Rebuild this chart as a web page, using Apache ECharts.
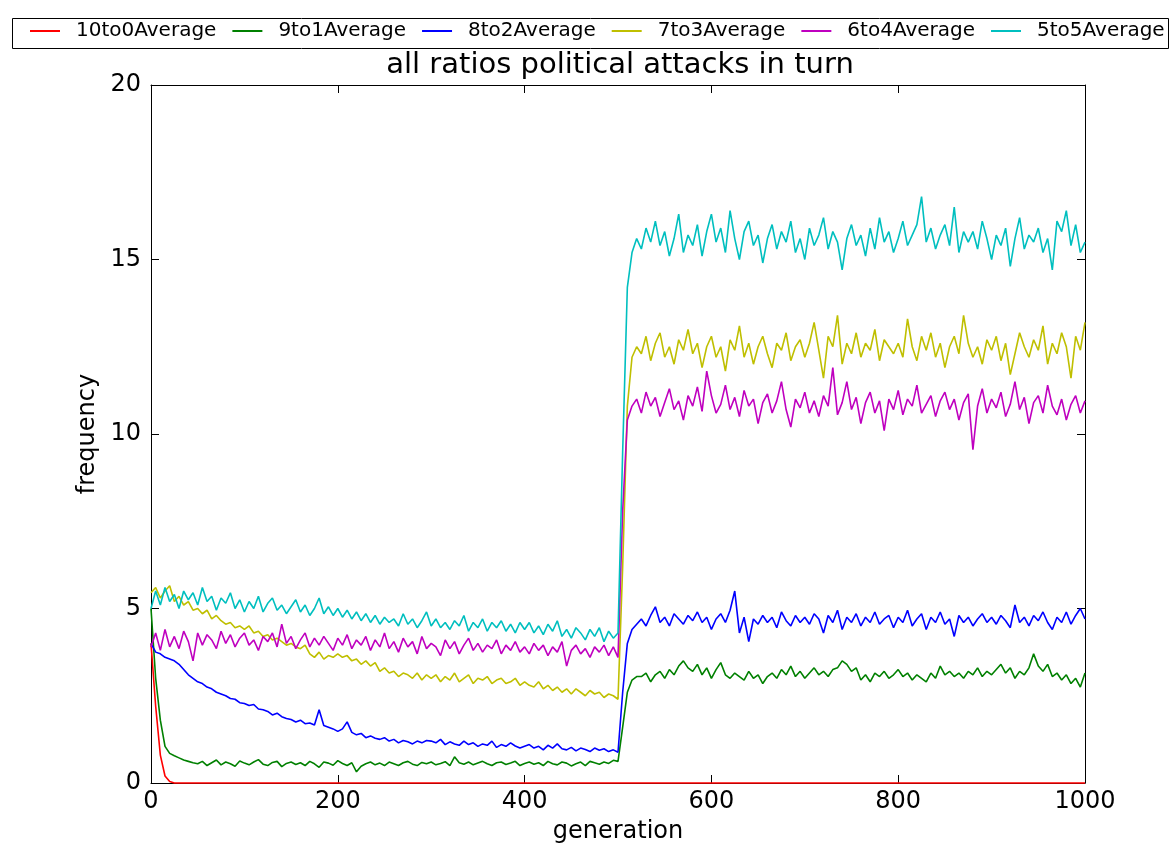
<!DOCTYPE html>
<html>
<head>
<meta charset="utf-8">
<script src="https://cdn.jsdelivr.net/npm/echarts@6/dist/echarts.min.js"></script>
<style>html,body{margin:0;padding:0;background:#fff}#c{width:1170px;height:849px}</style>
</head>
<body>
<div id="c"></div>
<script>
const generations = [
0,5,10,15,20,25,30,35,40,45,50,55,60,65,70,75,80,85,90,95,
100,105,110,115,120,125,130,135,140,145,150,155,160,165,170,175,180,185,190,195,
200,205,210,215,220,225,230,235,240,245,250,255,260,265,270,275,280,285,290,295,
300,305,310,315,320,325,330,335,340,345,350,355,360,365,370,375,380,385,390,395,
400,405,410,415,420,425,430,435,440,445,450,455,460,465,470,475,480,485,490,495,
500,505,510,515,520,525,530,535,540,545,550,555,560,565,570,575,580,585,590,595,
600,605,610,615,620,625,630,635,640,645,650,655,660,665,670,675,680,685,690,695,
700,705,710,715,720,725,730,735,740,745,750,755,760,765,770,775,780,785,790,795,
800,805,810,815,820,825,830,835,840,845,850,855,860,865,870,875,880,885,890,895,
900,905,910,915,920,925,930,935,940,945,950,955,960,965,970,975,980,985,990,995,
1000];

const r10to0 = [
4.0,2.2,0.8,0.2,0.04,0,0,0,0,0,0,0,0,0,0,0,0,0,0,0,
0,0,0,0,0,0,0,0,0,0,0,0,0,0,0,0,0,0,0,0,
0,0,0,0,0,0,0,0,0,0,0,0,0,0,0,0,0,0,0,0,
0,0,0,0,0,0,0,0,0,0,0,0,0,0,0,0,0,0,0,0,
0,0,0,0,0,0,0,0,0,0,0,0,0,0,0,0,0,0,0,0,
0,0,0,0,0,0,0,0,0,0,0,0,0,0,0,0,0,0,0,0,
0,0,0,0,0,0,0,0,0,0,0,0,0,0,0,0,0,0,0,0,
0,0,0,0,0,0,0,0,0,0,0,0,0,0,0,0,0,0,0,0,
0,0,0,0,0,0,0,0,0,0,0,0,0,0,0,0,0,0,0,0,
0,0,0,0,0,0,0,0,0,0,0,0,0,0,0,0,0,0,0,0,
0];

const r9to1 = [
5.0,3.0,1.8,1.05,0.85,0.78,0.72,0.66,0.62,0.58,0.55,0.62,0.5,0.58,0.66,0.52,0.6,0.55,0.48,0.63,
0.57,0.52,0.6,0.67,0.54,0.5,0.59,0.62,0.47,0.56,0.6,0.53,0.58,0.5,0.62,0.55,0.45,0.6,0.57,0.51,
0.64,0.56,0.5,0.58,0.32,0.48,0.55,0.6,0.52,0.57,0.5,0.6,0.55,0.5,0.58,0.62,0.54,0.5,0.59,0.55,
0.6,0.52,0.56,0.61,0.5,0.75,0.58,0.54,0.6,0.52,0.57,0.62,0.55,0.5,0.58,0.6,0.53,0.57,0.62,0.5,
0.56,0.6,0.54,0.58,0.5,0.62,0.55,0.52,0.6,0.57,0.49,0.55,0.6,0.5,0.62,0.58,0.54,0.6,0.56,0.65,
0.62,1.6,2.6,2.95,3.05,3.05,3.15,2.9,3.1,3.2,3.0,3.25,3.1,3.35,3.5,3.3,3.2,3.4,3.1,3.3,
3.0,3.25,3.45,3.1,3.0,3.15,3.05,2.95,3.2,3.0,3.1,2.85,3.05,3.15,3.0,3.25,3.1,3.35,3.05,3.2,
3.0,3.15,3.3,3.1,3.2,3.05,3.25,3.3,3.5,3.4,3.2,3.3,2.95,3.1,2.9,3.15,3.05,3.2,3.0,3.1,
3.25,3.05,3.15,2.95,3.1,3.0,2.9,3.15,3.0,3.35,3.1,3.2,3.05,3.15,3.0,3.2,3.1,3.3,3.05,3.2,
3.1,3.25,3.4,3.15,3.3,3.0,3.2,3.1,3.3,3.7,3.35,3.2,3.4,3.05,3.15,2.95,3.1,2.85,3.0,2.75,
3.15];

const r8to2 = [
4.0,3.75,3.7,3.6,3.55,3.5,3.4,3.25,3.1,3.0,2.9,2.85,2.75,2.7,2.6,2.55,2.5,2.42,2.4,2.3,
2.28,2.22,2.25,2.12,2.1,2.05,1.95,2.0,1.9,1.85,1.82,1.75,1.8,1.7,1.72,1.66,2.1,1.65,1.6,1.55,
1.48,1.55,1.75,1.45,1.38,1.42,1.3,1.35,1.28,1.25,1.3,1.2,1.25,1.15,1.22,1.18,1.12,1.2,1.15,1.22,
1.2,1.15,1.25,1.1,1.18,1.12,1.08,1.2,1.1,1.15,1.05,1.12,1.08,1.2,1.02,1.1,1.05,1.15,1.06,1.0,
1.05,1.1,1.0,1.05,0.95,1.08,1.0,1.12,0.98,0.95,1.02,0.92,1.0,0.96,0.9,1.0,0.94,0.98,0.9,0.95,
0.88,2.6,4.0,4.4,4.55,4.7,4.5,4.8,5.05,4.6,4.75,4.5,4.85,4.7,4.55,4.8,4.65,4.9,4.6,4.75,
4.4,4.7,4.85,4.6,4.95,5.5,4.3,4.75,4.05,4.7,4.55,4.8,4.6,4.75,4.45,4.9,4.65,4.5,4.8,4.6,
4.75,4.55,4.85,4.7,4.3,4.8,4.6,4.95,4.4,4.75,4.6,4.85,4.5,4.75,4.6,4.9,4.55,4.7,4.8,4.45,
4.75,4.6,4.95,4.5,4.7,4.85,4.4,4.75,4.6,4.9,4.55,4.7,4.2,4.8,4.6,4.75,4.5,4.7,4.85,4.6,
4.75,4.55,4.8,4.65,4.45,5.1,4.6,4.75,4.5,4.8,4.65,4.9,4.6,4.4,4.75,4.6,4.9,4.55,4.8,5.0,
4.7];

const r7to3 = [
5.45,5.6,5.3,5.5,5.65,5.2,5.35,5.1,5.2,4.95,5.0,4.85,4.95,4.7,4.8,4.65,4.55,4.6,4.45,4.5,
4.4,4.5,4.3,4.35,4.2,4.25,4.1,4.15,4.05,3.95,4.0,3.9,3.85,3.95,3.7,3.6,3.75,3.55,3.65,3.6,
3.7,3.6,3.65,3.5,3.55,3.4,3.5,3.35,3.45,3.2,3.3,3.15,3.2,3.05,3.15,3.1,3.0,3.15,2.95,3.1,
3.0,3.1,2.9,3.05,2.95,3.15,2.9,3.0,3.1,2.85,3.0,2.95,3.05,2.85,2.95,3.0,2.85,2.9,3.0,2.8,
2.9,2.8,2.75,2.9,2.7,2.8,2.65,2.75,2.6,2.7,2.55,2.7,2.6,2.5,2.65,2.55,2.6,2.45,2.55,2.5,
2.4,6.2,10.8,12.2,12.5,12.3,12.8,12.1,12.6,12.9,12.2,12.5,12.0,12.7,12.4,13.0,12.3,12.6,11.9,12.5,
12.8,12.2,12.5,11.8,12.7,12.4,13.1,12.2,12.6,12.0,12.5,12.8,12.3,11.9,12.6,12.4,12.9,12.1,12.5,12.7,
12.2,12.6,13.2,12.4,11.6,12.8,12.5,13.4,12.0,12.6,12.3,12.9,12.2,12.6,12.4,13.0,12.1,12.7,12.5,12.3,
12.6,12.2,13.3,12.5,12.1,12.8,12.4,12.9,12.2,12.6,11.9,12.5,12.8,12.3,13.4,12.6,12.2,12.5,12.0,12.7,
12.4,12.8,12.1,12.6,11.7,12.3,12.9,12.5,12.2,12.7,12.4,13.1,12.0,12.6,12.3,12.9,12.5,11.6,12.8,12.4,
13.2];

const r6to4 = [
3.9,4.3,3.8,4.4,3.9,4.2,3.85,4.35,4.05,3.5,4.3,3.95,4.25,4.1,3.85,4.35,4.0,4.25,3.9,4.15,
4.3,3.95,4.1,3.8,4.2,4.05,4.3,3.9,4.55,4.0,4.2,3.85,4.1,4.3,3.9,4.15,3.95,4.2,4.0,3.8,
4.15,3.95,4.25,3.85,4.1,3.95,4.2,3.8,4.1,3.9,4.3,3.85,4.05,3.75,4.15,3.9,4.05,3.7,4.2,3.85,
4.0,3.9,3.65,4.1,3.85,4.05,3.7,3.95,4.15,3.8,4.0,3.75,3.95,3.85,4.1,3.7,3.95,3.8,4.05,3.75,
3.9,3.7,4.0,3.8,3.95,3.65,3.9,3.75,4.05,3.35,3.8,3.95,3.7,3.85,3.6,3.9,3.75,3.95,3.65,3.9,
3.6,7.8,10.4,10.8,11.0,10.6,11.2,10.8,11.05,10.5,10.9,11.3,10.7,10.95,10.4,11.1,10.8,11.35,10.65,11.8,
11.1,10.6,10.85,11.4,10.7,11.05,10.5,11.25,10.8,11.0,10.3,10.9,11.15,10.6,10.95,11.5,10.7,10.2,11.0,10.75,
11.2,10.6,10.95,10.5,11.1,10.8,11.9,10.55,10.9,11.5,10.7,11.05,10.3,10.9,11.2,10.6,10.95,10.1,11.0,10.7,
11.25,10.55,11.0,10.8,11.4,10.6,10.85,11.1,10.5,10.95,11.2,10.7,11.0,10.4,10.9,11.15,9.55,10.8,11.3,10.6,
11.0,10.75,11.2,10.5,10.85,11.5,10.7,11.05,10.3,10.9,11.1,10.6,11.4,10.8,10.55,11.0,10.4,10.85,11.1,10.6,
10.95];

const r5to5 = [
5.0,5.5,5.1,5.6,5.2,5.4,5.0,5.5,5.25,5.45,5.1,5.6,5.2,5.35,4.95,5.3,5.15,5.45,5.0,5.25,
4.9,5.2,5.0,5.35,4.9,5.15,5.3,4.95,5.1,4.85,5.05,5.25,4.9,5.1,4.8,5.0,5.3,4.85,5.05,4.8,
5.0,4.75,4.95,4.7,4.9,4.65,4.85,4.6,4.8,4.55,4.75,4.6,4.7,4.5,4.85,4.55,4.7,4.45,4.65,4.9,
4.5,4.7,4.45,4.6,4.4,4.65,4.5,4.8,4.35,4.6,4.45,4.7,4.35,4.6,4.45,4.65,4.35,4.55,4.3,4.6,
4.4,4.6,4.3,4.5,4.25,4.55,4.35,4.65,4.2,4.4,4.15,4.45,4.3,4.1,4.4,4.2,4.45,4.05,4.35,4.15,
4.3,9.5,14.2,15.2,15.6,15.3,15.9,15.5,16.1,15.4,15.8,15.1,15.6,16.3,15.2,15.7,15.4,16.0,15.1,15.8,
16.3,15.5,15.9,15.2,16.4,15.6,15.0,15.8,16.1,15.4,15.7,14.9,15.6,16.0,15.3,15.8,15.5,16.1,15.2,15.6,
15.0,15.9,15.4,15.7,16.2,15.3,15.8,15.5,14.7,15.6,16.0,15.4,15.7,15.1,15.9,15.3,16.2,15.5,15.8,15.2,
15.6,16.1,15.4,15.7,16.0,16.8,15.5,15.9,15.3,15.7,16.0,15.4,16.5,15.2,15.8,15.5,15.8,15.3,16.1,15.6,
15.0,15.7,15.4,15.9,14.8,15.6,16.2,15.3,15.7,15.5,15.9,15.2,15.6,14.7,16.1,15.8,16.4,15.4,16.0,15.2,
15.5];

const seriesNames = ['10to0Average','9to1Average','8to2Average','7to3Average','6to4Average','5to5Average'];
const seriesValues = [r10to0, r9to1, r8to2, r7to3, r6to4, r5to5];
const seriesColors = ['#ff0000','#008000','#0000ff','#bfbf00','#bf00bf','#00bfbf'];

const FONT = 'DejaVu Sans';
const chart = echarts.init(document.getElementById('c'), null, {renderer:'canvas'});

const axisCommon = {
  axisLine:{show:true, onZero:false, lineStyle:{color:'#000', width:1}},
  axisTick:{show:true, inside:true, length:8, lineStyle:{color:'#000', width:1}},
  splitLine:{show:false}
};

chart.setOption({
  animation:false,
  backgroundColor:'#fff',
  title:{
    text:'all ratios political attacks in turn',
    left:615, top:46, textAlign:'center',
    textStyle:{fontFamily:FONT, fontSize:29, fontWeight:'normal', color:'#000'}
  },
  graphic:[{
    type:'rect', left:12, top:18, z:-1,
    shape:{width:1156, height:30},
    style:{fill:'#fff', stroke:'#000', lineWidth:1}
  }],
  legend:{
    left:25, top:16, width:1200, orient:'horizontal',
    icon:'rect', itemWidth:30, itemHeight:2, itemGap:16,
    data:seriesNames,
    textStyle:{fontFamily:FONT, fontSize:20, color:'#000', padding:[0,0,0,11]}
  },
  grid:{left:151, right:85, top:85, bottom:60},
  xAxis:[
    Object.assign({type:'value', min:0, max:1000, interval:200, position:'bottom',
      name:'generation', nameLocation:'middle', nameGap:37,
      nameTextStyle:{fontFamily:FONT, fontSize:24, color:'#000'},
      axisLabel:{fontFamily:FONT, fontSize:24, color:'#000', margin:7,
        formatter:(v)=>String(v)}
    }, axisCommon),
    Object.assign({type:'value', min:0, max:1000, interval:200, position:'top',
      axisLabel:{show:false}}, axisCommon)
  ],
  yAxis:[
    Object.assign({type:'value', min:0, max:20, interval:5, position:'left',
      name:'frequency', nameLocation:'middle', nameGap:50,
      nameTextStyle:{fontFamily:FONT, fontSize:24, color:'#000'},
      axisLabel:{fontFamily:FONT, fontSize:24, color:'#000', margin:10}
    }, axisCommon),
    Object.assign({type:'value', min:0, max:20, interval:5, position:'right',
      axisLabel:{show:false}}, axisCommon)
  ],
  series: seriesNames.map((n,k)=>({
    name:n, type:'line', xAxisIndex:0, yAxisIndex:0,
    data: generations.map((g,i)=>[g, seriesValues[k][i]]),
    showSymbol:false, symbol:'none', clip:false,
    lineStyle:{color:seriesColors[k], width:1.6},
    itemStyle:{color:seriesColors[k]},
    z: 3 + k
  }))
});
</script>
</body>
</html>
